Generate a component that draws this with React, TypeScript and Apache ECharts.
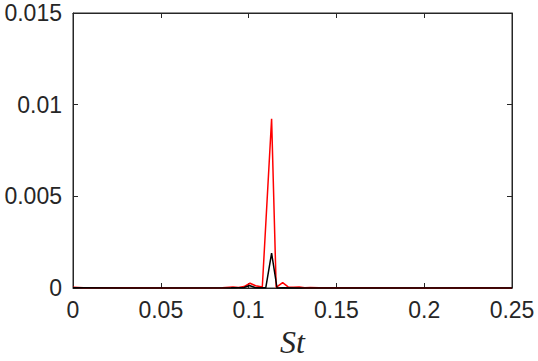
import React, { useEffect, useRef } from "react";
import * as echarts from "echarts";

const xTicks = [0, 0.05, 0.1, 0.15, 0.2, 0.25];
const yTicks = [0, 0.005, 0.01, 0.015];

const redSt = [0, 0.006, 0.013, 0.03, 0.06, 0.085, 0.0911, 0.0942, 0.0974, 0.1008, 0.104, 0.1078, 0.1131, 0.1157, 0.1194, 0.1225, 0.1257, 0.1288, 0.132, 0.1351, 0.14, 0.17, 0.2, 0.23, 0.25];
const redVal = [0.00004, 0.00002, 0.00001, 0.00001, 0.0, 0.00002, 0.00006, 0.00003, 0.00008, 0.00026, 0.00012, 0.00005, 0.00923, 0.00003, 0.00029, 0.00006, 0.00004, 0.00005, 0.00002, 0.00003, 0.00001, 0.00001, 0.0, 0.00001, 0.0];

const blackSt = [0, 0.03, 0.06, 0.09, 0.0974, 0.1004, 0.1036, 0.1068, 0.1098, 0.1131, 0.1162, 0.1194, 0.13, 0.16, 0.2, 0.25];
const blackVal = [0.00001, 0.0, 0.0, 0.00001, 0.00003, 0.00014, 0.00003, 0.00001, 0.00002, 0.0019, 0.0, 0.00001, 0.0, 0.0, 0.0, 0.0];

const AX = "#262626";

export default function App() {
  const ref = useRef<HTMLDivElement>(null);
  useEffect(() => {
    if (!ref.current) return;
    const chart = echarts.init(ref.current, null, { renderer: "svg" });
    const tickStyle = { show: true, inside: true, length: 5, lineStyle: { color: AX, width: 1 } };
    const labelStyle = { color: "#262626", fontFamily: "Liberation Sans", fontSize: 23 };
    chart.setOption({
      animation: false,
      backgroundColor: "#ffffff",
      grid: { left: 73, right: 26, top: 13, bottom: 73, show: true, borderColor: AX, borderWidth: 1, backgroundColor: "transparent", containLabel: false, outerBoundsMode: "none" },
      xAxis: [
        {
          type: "value", min: 0, max: 0.25, interval: 0.05, position: "bottom",
          axisLine: { show: true, onZero: false, lineStyle: { color: AX, width: 1 } },
          axisTick: tickStyle,
          splitLine: { show: false },
          axisLabel: { ...labelStyle, margin: 10, formatter: (v: number) => String(+v.toFixed(3)) },
          name: "St", nameLocation: "middle", nameGap: 34,
          nameTextStyle: { fontFamily: "Liberation Serif", fontStyle: "italic", fontSize: 32, color: "#262626" },
        },
        {
          type: "value", min: 0, max: 0.25, interval: 0.05, position: "top",
          axisLine: { show: true, onZero: false, lineStyle: { color: AX, width: 1 } },
          axisTick: tickStyle, axisLabel: { show: false }, splitLine: { show: false },
        },
      ],
      yAxis: [
        {
          type: "value", min: 0, max: 0.015, interval: 0.005, position: "left",
          axisLine: { show: true, onZero: false, lineStyle: { color: AX, width: 1 } },
          axisTick: tickStyle,
          splitLine: { show: false },
          axisLabel: { ...labelStyle, margin: 11, formatter: (v: number) => String(+v.toFixed(4)) },
        },
        {
          type: "value", min: 0, max: 0.015, interval: 0.005, position: "right",
          axisLine: { show: true, onZero: false, lineStyle: { color: AX, width: 1 } },
          axisTick: tickStyle, axisLabel: { show: false }, splitLine: { show: false },
        },
      ],
      series: [
        {
          type: "line", xAxisIndex: 0, yAxisIndex: 0, symbol: "none",
          lineStyle: { color: "#ff0000", width: 1.5 },
          data: redSt.map((x, i) => [x, redVal[i]]),
          z: 2,
        },
        {
          type: "line", xAxisIndex: 0, yAxisIndex: 0, symbol: "none",
          lineStyle: { color: "#000000", width: 1.5 },
          data: blackSt.map((x, i) => [x, blackVal[i]]),
          z: 3,
        },
      ],
    });
    return () => chart.dispose();
  }, []);
  return <div ref={ref} style={{ width: 538, height: 361, position: "absolute", left: 0, top: 0 }} />;
}
